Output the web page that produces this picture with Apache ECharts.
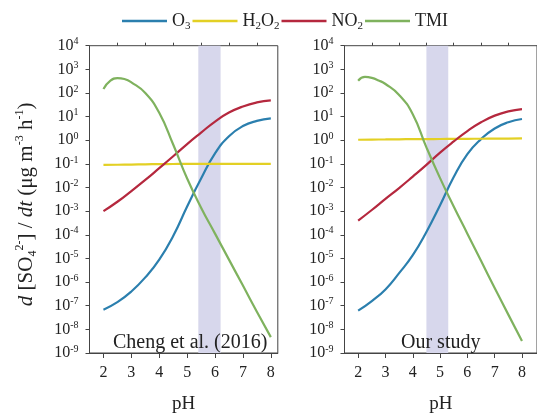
<!DOCTYPE html>
<html>
<head>
<meta charset="utf-8">
<script src="https://cdn.jsdelivr.net/npm/echarts@6/dist/echarts.min.js"></script>
<style>
html,body{margin:0;padding:0;background:#fff;}
#chart{width:537px;height:419px;}
</style>
</head>
<body>
<div id="chart"></div>
<script>
// ---- data ----
const seriesNames = ['O3', 'H2O2', 'NO2', 'TMI'];
const pHMain = [2, 2.5, 3, 3.5, 4, 4.5, 5, 5.5, 6, 6.5, 7, 7.5, 8];
const pHTMI = [2, 2.25, 2.5, 2.75, 3, 3.5, 4, 4.5, 5, 5.5, 6, 6.5, 7, 7.5, 8];

// Cheng et al. (2016)
const chengO3 = [6.8e-8, 1.41e-7, 4.0e-7, 1.58e-6, 8.9e-6, 8.9e-5, 1.58e-3, 0.024, 0.28, 1.48, 3.98, 6.6, 8.5];
const chengH2O2 = [0.09, 0.092, 0.094, 0.096, 0.098, 0.099, 0.1, 0.1, 0.1, 0.1, 0.1, 0.1, 0.1];
const chengNO2 = [1.0e-3, 2.5e-3, 7.1e-3, 0.021, 0.066, 0.21, 0.69, 2.1, 6.2, 14.8, 26.9, 39.8, 49];
const chengTMI = [148, 331, 427, 389, 282, 100, 14.5, 0.66, 0.024, 1.41e-3, 1.12e-4, 8.9e-6, 7.1e-7, 5.6e-8, 4.7e-9];

// Our study
const oursO3 = [6.2e-8, 1.58e-7, 4.9e-7, 2.4e-6, 1.38e-5, 1.32e-4, 1.78e-3, 0.028, 0.26, 1.12, 3.16, 5.75, 7.9];
const oursH2O2 = [1.05, 1.07, 1.08, 1.1, 1.11, 1.12, 1.13, 1.14, 1.15, 1.16, 1.17, 1.18, 1.2];
const oursNO2 = [4.0e-4, 1.12e-3, 3.3e-3, 9.5e-3, 0.029, 0.091, 0.30, 0.89, 2.45, 5.75, 11.0, 16.6, 20.9];
const oursTMI = [331, 479, 437, 339, 240, 83, 12.6, 0.5, 0.025, 1.58e-3, 1.12e-4, 7.9e-6, 5.6e-7, 4.2e-8, 3.2e-9];

// shaded pH ranges
const chengBand = [5.4, 6.2];
const oursBand = [4.5, 5.3];

// tick labels
const xMajorTicks = [2, 3, 4, 5, 6, 7, 8];
const xMinorTicks = [2.5, 3.5, 4.5, 5.5, 6.5, 7.5];
const yMin = 1e-9, yMax = 1e4;
const panelLabels = ['Cheng et al. (2016)', 'Our study'];

// ---- styling ----
const FONT = '"Liberation Serif", "DejaVu Serif", serif';
const colors = {O3: '#2b7fae', H2O2: '#e3d024', NO2: '#b5283e', TMI: '#7fb25e'};
const axisColor = '#444';
const textColor = '#222';

function zip(xs, ys) { return xs.map((x, i) => [x, ys[i]]); }

function xAxesFor(gridIndex, max) {
  return [
    {
      type: 'value', gridIndex, min: 1.5, max: max,
      axisLine: {show: true, onZero: false, lineStyle: {color: axisColor, width: 1}},
      axisTick: {show: true, customValues: xMajorTicks, length: 5, lineStyle: {color: axisColor}},
      axisLabel: {customValues: xMajorTicks, margin: 12, fontFamily: FONT, fontSize: 16, color: textColor},
      splitLine: {show: false},
      name: 'pH', nameLocation: 'middle', nameGap: 42,
      nameTextStyle: {fontFamily: FONT, fontSize: 19, color: textColor}
    },
    {
      type: 'value', gridIndex, min: 1.5, max: max,
      axisLine: {show: false},
      axisTick: {show: true, customValues: xMinorTicks, length: 3, lineStyle: {color: axisColor}},
      axisLabel: {show: false},
      splitLine: {show: false}
    }
  ];
}

function yAxisFor(gridIndex, withName) {
  const ax = {
    type: 'log', logBase: 10, gridIndex, min: yMin, max: yMax, interval: 1,
    axisLine: {show: true, onZero: false, lineStyle: {color: axisColor, width: 1}},
    axisTick: {show: true, length: 4, lineStyle: {color: axisColor}},
    axisLabel: {
      margin: 11, color: textColor,
      formatter: v => '{b|10}{s|' + Math.round(Math.log10(v)) + '}',
      rich: {
        b: {fontFamily: FONT, fontSize: 16, lineHeight: 18, color: textColor},
        s: {fontFamily: FONT, fontSize: 10, lineHeight: 18, verticalAlign: 'top', color: textColor}
      }
    },
    splitLine: {show: false}
  };
  if (withName) {
    ax.name = '{i|d} [SO{sb|4}{sp|2-}] / {i|dt} (μg m{sp|-3} h{sp|-1})';
    ax.nameLocation = 'middle';
    ax.nameRotate = 90;
    ax.nameGap = 51;
    ax.nameTextStyle = {
      fontFamily: FONT, fontSize: 21, color: textColor, padding: [0, 10, 0, 0],
      rich: {
        i: {fontFamily: FONT, fontSize: 21, fontStyle: 'italic', lineHeight: 25, color: textColor},
        sb: {fontFamily: FONT, fontSize: 12, verticalAlign: 'bottom', lineHeight: 25, color: textColor},
        sp: {fontFamily: FONT, fontSize: 12, verticalAlign: 'top', lineHeight: 25, color: textColor}
      }
    };
  }
  return ax;
}

function lineSeries(name, xIdx, yIdx, xs, ys) {
  return {
    name, type: 'line', xAxisIndex: xIdx, yAxisIndex: yIdx,
    data: zip(xs, ys), showSymbol: false, symbol: 'none', smooth: 0.5,
    lineStyle: {color: colors[name], width: 2.2},
    itemStyle: {color: colors[name]},
    z: 3, silent: true
  };
}

function bandSeries(xIdx, yIdx, band) {
  return {
    type: 'line', xAxisIndex: xIdx, yAxisIndex: yIdx, data: [], z: 1, silent: true,
    markArea: {
      silent: true,
      itemStyle: {color: '#d7d7ec', opacity: 1},
      data: [[{xAxis: band[0]}, {xAxis: band[1]}]]
    }
  };
}

const legendText = {
  O3: '{m|O}{s|3}',
  H2O2: '{m|H}{s|2}{m|O}{s|2}',
  NO2: '{m|NO}{s|2}',
  TMI: '{m|TMI}'
};

const chart = echarts.init(document.getElementById('chart'), null, {renderer: 'canvas'});
chart.setOption({
  animation: false,
  backgroundColor: '#fff',
  grid: [
    {left: 89.5, top: 45.7, width: 188.3, height: 314, show: true, borderColor: axisColor, borderWidth: 1, backgroundColor: 'transparent'},
    {left: 344.5, top: 45.7, width: 196.7, height: 314, show: true, borderColor: axisColor, borderWidth: 1, backgroundColor: 'transparent'}
  ],
  legend: {
    data: seriesNames, left: 117, top: 7, itemWidth: 45, itemHeight: 2.5, itemGap: 2,
    icon: 'rect',
    formatter: n => legendText[n],
    textStyle: {
      rich: {
        m: {fontFamily: FONT, fontSize: 18, lineHeight: 22, color: textColor},
        s: {fontFamily: FONT, fontSize: 11, lineHeight: 22, verticalAlign: 'bottom', color: textColor}
      }
    }
  },
  xAxis: [...xAxesFor(0, 8.25), ...xAxesFor(1, 8.55)],
  yAxis: [yAxisFor(0, true), yAxisFor(1, false)],
  series: [
    bandSeries(0, 0, chengBand),
    lineSeries('O3', 0, 0, pHMain, chengO3),
    lineSeries('H2O2', 0, 0, pHMain, chengH2O2),
    lineSeries('NO2', 0, 0, pHMain, chengNO2),
    lineSeries('TMI', 0, 0, pHTMI, chengTMI),
    bandSeries(2, 1, oursBand),
    lineSeries('O3', 2, 1, pHMain, oursO3),
    lineSeries('H2O2', 2, 1, pHMain, oursH2O2),
    lineSeries('NO2', 2, 1, pHMain, oursNO2),
    lineSeries('TMI', 2, 1, pHTMI, oursTMI)
  ],
  graphic: [
    {type: 'text', left: 113, top: 333, z: 10, silent: true,
      style: {text: panelLabels[0], fontFamily: FONT, fontSize: 20, fill: textColor}},
    {type: 'text', left: 401, top: 333, z: 10, silent: true,
      style: {text: panelLabels[1], fontFamily: FONT, fontSize: 20, fill: textColor}}
  ]
});
</script>
</body>
</html>
